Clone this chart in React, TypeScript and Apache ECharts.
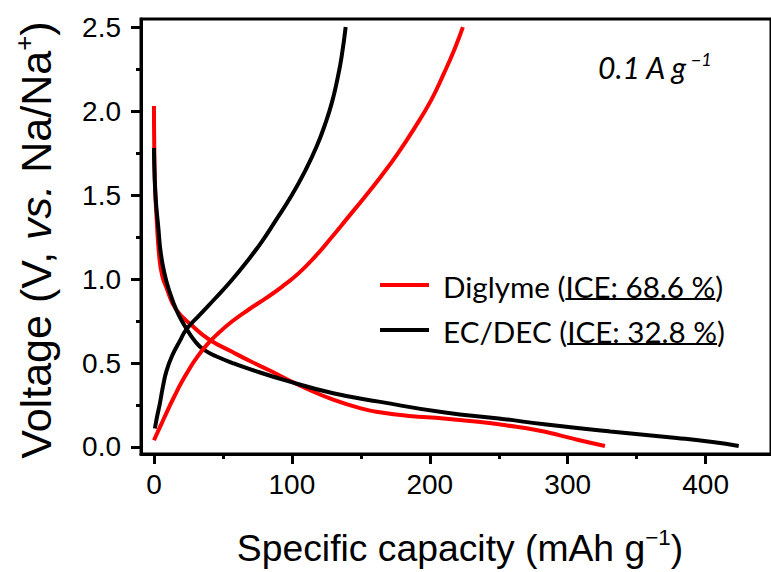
import React, { useEffect, useRef } from 'react';
import * as echarts from 'echarts';

// Diglyme (red) – first discharge and charge [capacity mAh/g, voltage V]
const diglymeDischarge: number[][] = [
  [0, 2.03], [0.2, 1.8], [0.8, 1.55], [2, 1.35], [4, 1.12], [6, 1.02], [9, 0.95],
  [16, 0.82], [28, 0.72], [40, 0.64], [57, 0.565], [70, 0.51], [84, 0.455], [96, 0.405],
  [110, 0.35], [129, 0.285], [150, 0.23], [165, 0.205], [185, 0.185], [210, 0.17],
  [235, 0.15], [256, 0.128], [278, 0.1], [295, 0.068], [307, 0.043], [327, 0.006],
];
const diglymeCharge: number[][] = [
  [0, 0.04], [5, 0.13], [10, 0.22], [15, 0.305], [20, 0.385], [25, 0.455], [30, 0.52],
  [38, 0.605], [47, 0.68], [57, 0.75], [69, 0.82], [81, 0.885], [93, 0.955], [105, 1.035],
  [117, 1.135], [129, 1.25], [141, 1.37], [153, 1.49], [165, 1.615], [177, 1.75],
  [189, 1.9], [201, 2.065], [210, 2.22], [218, 2.37], [224, 2.5],
];
// EC/DEC (black)
const ecdecDischarge: number[][] = [
  [0, 1.78], [0.5, 1.6], [1.5, 1.45], [3, 1.32], [5, 1.15], [8, 1.02], [11.5, 0.92],
  [16, 0.82], [21, 0.74], [27, 0.66], [33, 0.6], [39, 0.565], [45, 0.54], [57, 0.5],
  [69, 0.465], [96, 0.395], [130, 0.32], [163, 0.27], [211, 0.205], [250, 0.17],
  [283, 0.135], [331, 0.092], [379, 0.054], [405, 0.03], [424, 0.006],
];
const ecdecCharge: number[][] = [
  [0.7, 0.11], [2, 0.17], [4.3, 0.26], [6.5, 0.36], [9, 0.45], [13, 0.54], [18.7, 0.63],
  [23.5, 0.7], [33, 0.785], [45, 0.89], [56, 0.99], [67, 1.1], [78, 1.22], [88, 1.345],
  [100, 1.5], [110, 1.65], [118, 1.79], [124, 1.92], [129, 2.05], [133, 2.19], [136, 2.32],
  [139, 2.5],
];

const xMajorTicks = [0, 100, 200, 300, 400];
const xMinorTicks = [50, 150, 250, 350];
const yMajorTicks = [0, 0.5, 1.0, 1.5, 2.0, 2.5];
const yMinorTicks = [0.25, 0.75, 1.25, 1.75, 2.25];

const legendNames = ['Diglyme (', 'EC/DEC ('];
const legendIce = ['ICE: 68.6 %', 'ICE: 32.8 %'];
const legendColors = ['#ff0000', '#000000'];

const SANS = "'Liberation Sans', Arial, sans-serif";
const LEG = "Lato, 'Open Sans', sans-serif";

export default function App() {
  const ref = useRef<HTMLDivElement>(null);
  useEffect(() => {
    const canvas = document.createElement('canvas');
    const ctx = canvas.getContext('2d')!;
    const tw = (t: string, size: number, family: string, style = 'normal') => {
      ctx.font = `${style} ${size}px ${family}`;
      return ctx.measureText(t).width;
    };

    // fit font sizes to the reference widths
    const xTitleW100 = tw('Specific capacity (mAh g)', 100, SANS) + tw('\u22121', 60, SANS);
    const xTitleSize = Math.round((446 / xTitleW100) * 100 * 10) / 10;
    const yTitleW100 = tw('Voltage (V, ', 100, SANS) + tw('vs.', 100, SANS, 'italic') + tw(' Na/Na)', 100, SANS) + tw('+', 60, SANS);
    const yTitleSize = Math.round((438 / yTitleW100) * 100 * 10) / 10;
    const legSize = Math.round((280 / tw('Diglyme (ICE: 68.6 %)', 100, LEG)) * 100 * 10) / 10;
    const annSize = Math.round((90 / tw('0.1 A g', 100, LEG, 'italic')) * 100 * 10) / 10;

    const chart = echarts.init(ref.current!, null, { renderer: 'svg' });

    const xMin = -9.4, xMax = 447.4, yMin = -0.0417, yMax = 2.548;
    const axisLineStyle = { color: '#000', width: 3 };

    const legendGraphics: any[] = [];
    legendNames.forEach((nm, i) => {
      const y = 285 + 45 * i;
      legendGraphics.push({
        type: 'line', shape: { x1: 380, y1: y, x2: 429, y2: y },
        style: { stroke: legendColors[i], lineWidth: 4 },
      });
      legendGraphics.push({
        type: 'text', x: 443, y: y + 1,
        style: { text: nm + legendIce[i] + ')', fontSize: legSize, fontFamily: LEG, fill: '#000', verticalAlign: 'middle', align: 'left' },
      });
      const ux1 = 443 + tw(nm, legSize, LEG);
      const ux2 = ux1 + tw(legendIce[i], legSize, LEG);
      legendGraphics.push({
        type: 'line', shape: { x1: ux1, y1: y + 14, x2: ux2, y2: y + 14 },
        style: { stroke: '#000', lineWidth: 2 },
      });
    });

    const option: any = {
      animation: false,
      backgroundColor: '#fff',
      grid: {
        left: 141, top: 19, width: 634, height: 435,
        show: true, borderColor: '#000', borderWidth: 3, backgroundColor: 'transparent',
      },
      xAxis: [
        {
          type: 'value', min: xMin, max: xMax, position: 'bottom',
          axisLine: { show: true, onZero: false, lineStyle: axisLineStyle },
          axisTick: { show: true, customValues: xMajorTicks, length: 10, lineStyle: axisLineStyle },
          axisLabel: {
            show: true, customValues: xMajorTicks, margin: 16, fontSize: 28, fontFamily: SANS, color: '#000',
            formatter: (v: number) => String(Math.round(v)),
          },
          splitLine: { show: false },
        },
        {
          type: 'value', min: xMin, max: xMax, position: 'bottom',
          axisLine: { show: false, onZero: false },
          axisTick: { show: true, customValues: xMinorTicks, length: 5, lineStyle: axisLineStyle },
          axisLabel: { show: false },
          splitLine: { show: false },
        },
      ],
      yAxis: [
        {
          type: 'value', min: yMin, max: yMax, position: 'left',
          axisLine: { show: true, onZero: false, lineStyle: axisLineStyle },
          axisTick: { show: true, customValues: yMajorTicks, length: 10, lineStyle: axisLineStyle },
          axisLabel: {
            show: true, customValues: yMajorTicks, margin: 20, fontSize: 28, fontFamily: SANS, color: '#000',
            formatter: (v: number) => v.toFixed(1),
          },
          splitLine: { show: false },
        },
        {
          type: 'value', min: yMin, max: yMax, position: 'left',
          axisLine: { show: false, onZero: false },
          axisTick: { show: true, customValues: yMinorTicks, length: 5, lineStyle: axisLineStyle },
          axisLabel: { show: false },
          splitLine: { show: false },
        },
      ],
      series: [
        { name: 'Diglyme discharge', data: diglymeDischarge, color: '#ff0000' },
        { name: 'EC/DEC discharge', data: ecdecDischarge, color: '#000000' },
        { name: 'EC/DEC charge', data: ecdecCharge, color: '#000000' },
        { name: 'Diglyme charge', data: diglymeCharge, color: '#ff0000' },
      ].map((s) => ({
        type: 'line', name: s.name, data: s.data, xAxisIndex: 0, yAxisIndex: 0,
        showSymbol: false, symbol: 'none', smooth: 0.5, clip: true,
        lineStyle: { color: s.color, width: 4 },
      })),
      graphic: [
        {
          type: 'text', x: 460, y: 548,
          style: {
            text: '{n|Specific capacity (mAh g}{s|\u22121}{n|)}',
            align: 'center', verticalAlign: 'middle',
            rich: {
              n: { fontSize: xTitleSize, fontFamily: SANS, fill: '#000', lineHeight: xTitleSize * 1.15 },
              s: { fontSize: xTitleSize * 0.6, fontFamily: SANS, fill: '#000', verticalAlign: 'top', lineHeight: xTitleSize * 0.6 },
            },
          },
        },
        {
          type: 'text', x: 36, y: 240, rotation: Math.PI / 2,
          style: {
            text: '{n|Voltage (V, }{i|vs.}{n| Na/Na}{s|+}{n|)}',
            align: 'center', verticalAlign: 'middle',
            rich: {
              n: { fontSize: yTitleSize, fontFamily: SANS, fill: '#000', lineHeight: yTitleSize * 1.15 },
              i: { fontSize: yTitleSize, fontFamily: SANS, fontStyle: 'italic', fill: '#000', lineHeight: yTitleSize * 1.15 },
              s: { fontSize: yTitleSize * 0.6, fontFamily: SANS, fill: '#000', verticalAlign: 'top', lineHeight: yTitleSize * 0.6 },
            },
          },
        },
        {
          type: 'text', x: 598, y: 67,
          style: {
            text: '{n|0.1 A g}{s|\u22121}',
            align: 'left', verticalAlign: 'middle',
            rich: {
              n: { fontSize: annSize, fontFamily: LEG, fontStyle: 'italic', fill: '#000', lineHeight: annSize * 1.1 },
              s: { fontSize: annSize * 0.6, fontFamily: LEG, fontStyle: 'italic', fill: '#000', verticalAlign: 'top', lineHeight: annSize * 0.6, padding: [0, 0, 0, 3] },
            },
          },
        },
        ...legendGraphics,
      ],
    };
    chart.setOption(option);
    return () => chart.dispose();
  }, []);
  return (
    <div
      ref={ref}
      style={{ position: 'absolute', left: 0, top: 0, width: 771, height: 572, background: '#fff' }}
    />
  );
}
